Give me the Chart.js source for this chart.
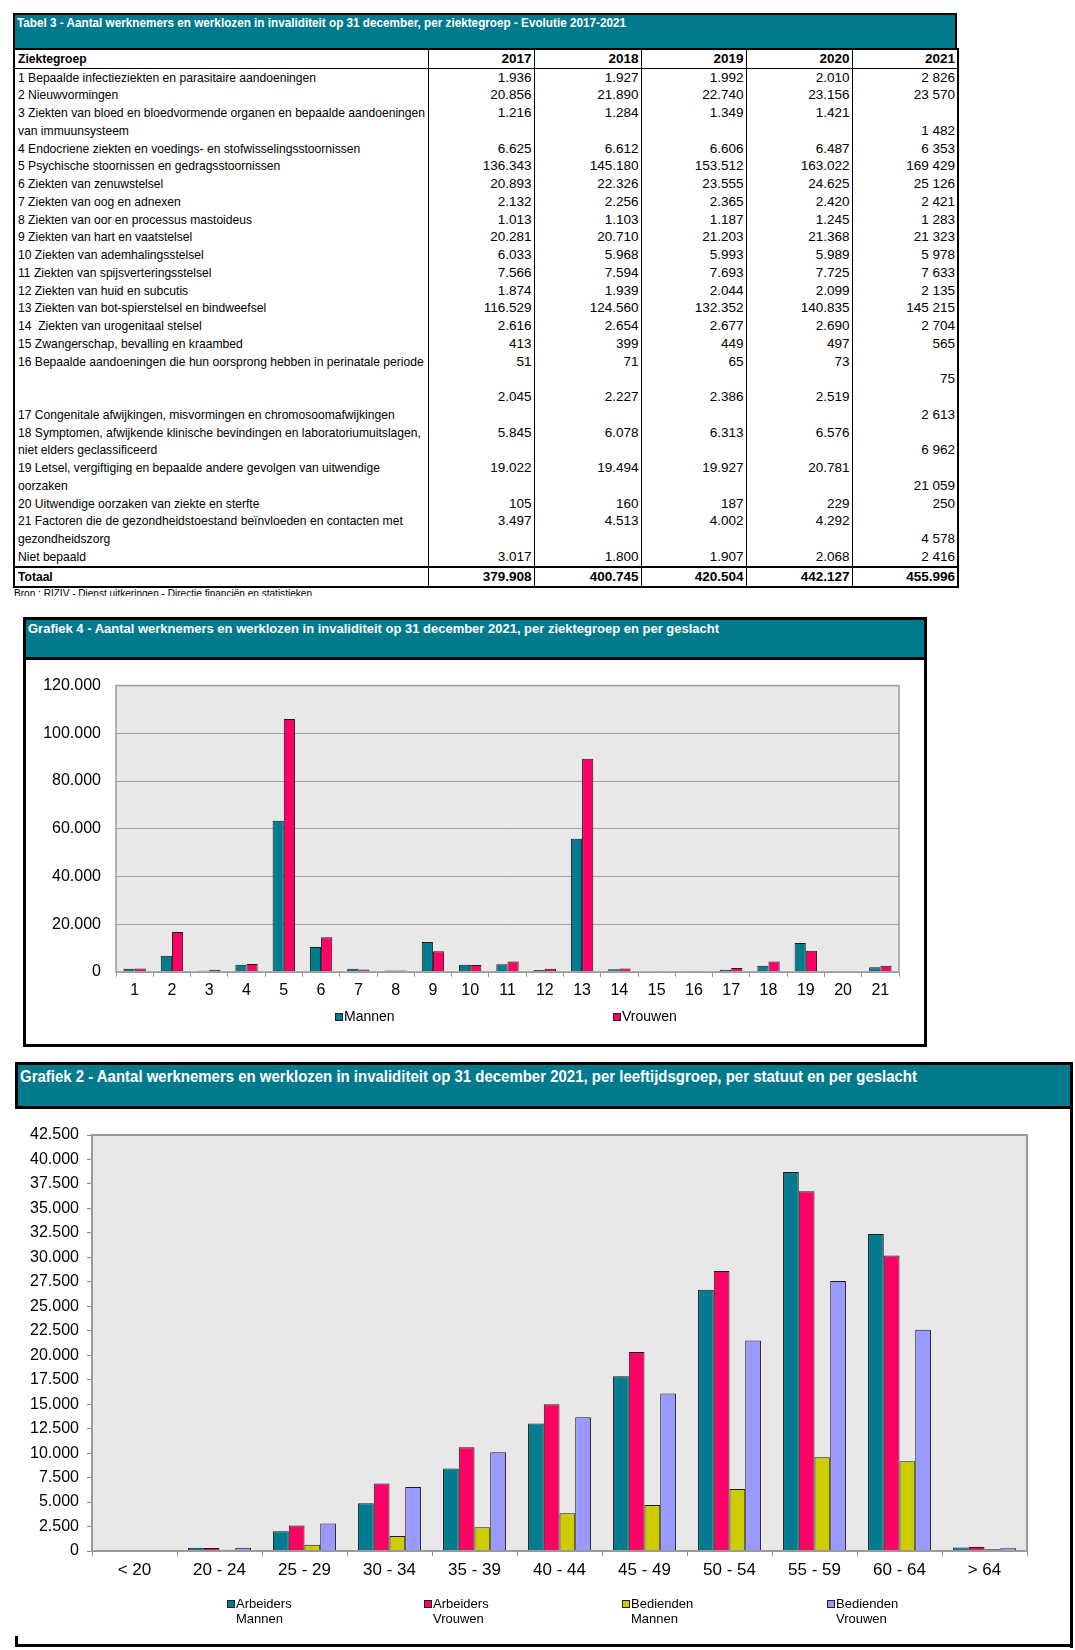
<!DOCTYPE html>
<html lang="nl">
<head>
<meta charset="utf-8">
<title>Invaliditeit per ziektegroep 2017-2021</title>
<script src="https://cdn.jsdelivr.net/npm/chart.js@4.4.1/dist/chart.umd.min.js"></script>
<style>
  html, body { margin: 0; padding: 0; background: #fff; }
  body { position: relative; width: 1075px; height: 1650px; overflow: hidden;
         font-family: "Liberation Sans", Arial, sans-serif; color: #000; }
  .kop { position: absolute; box-sizing: border-box; background: #027a8d; color: #fff;
         font-weight: bold; border: 2px solid #000; white-space: nowrap; }
  .kop span { position: absolute; left: 2px; display: inline-block; transform-origin: left center; }
  #tabel { position: absolute; left: 13px; top: 48px; width: 944px; border-collapse: collapse;
           table-layout: fixed; border: 2px solid #000; font-size: 13.5px; }
  #tabel td { padding: 0 2px 0 3px; height: 17.75px; line-height: 16px; white-space: nowrap; overflow: hidden;
              border-left: 1px solid #000; border-right: 1px solid #000; text-align: right; vertical-align: middle; }
  #tabel td:first-child { text-align: left; }
  #tabel td:first-child span { display: inline-block; transform-origin: left center; }
  #tabel tr.kopregel td { font-weight: bold; border-bottom: 1px solid #000; }
  #tabel tr.totaal td { font-weight: bold; border-top: 2px solid #000; }
  #bron { position: absolute; left: 14px; top: 586px; height: 10px; overflow: hidden; font-size: 11.5px; line-height: 14px; white-space: nowrap; }
  #bron span { display: inline-block; transform-origin: left center; }
  .kader { position: absolute; background: #000; }
  canvas { position: absolute; }
  .leg { position: absolute; white-space: nowrap; }
  .leg .blok { display: inline-block; box-sizing: border-box; width: 8px; height: 8px; border: 1px solid #222; margin-right: 1px; vertical-align: 0; }
  .leg .tweede { display: block; padding-left: 9px; }
</style>
</head>
<body>

<div class="kop" style="left:13px; top:13px; width:944px; height:37px; font-size:12.5px;"><span id="titel3" style="top:1px;">Tabel 3 - Aantal werknemers en werklozen in invaliditeit op 31 december, per ziektegroep - Evolutie 2017-2021</span></div>
<table id="tabel">
  <colgroup><col style="width:414px"><col style="width:106px"><col style="width:107px"><col style="width:105px"><col style="width:106px"><col style="width:106px"></colgroup>
  <tbody id="tabelbody"></tbody>
</table>
<div id="bron"><span id="brontekst">Bron : RIZIV - Dienst uitkeringen - Directie financiën en statistieken</span></div>

<!-- Grafiek 4 -->
<div style="position:absolute; left:23px; top:617px; width:904px; height:430px; box-sizing:border-box; border:3px solid #000;"></div>
<div class="kop" style="left:23px; top:617px; width:904px; height:43px; border-width:3px; font-size:13.5px;"><span id="titel4" style="top:1px;">Grafiek 4 - Aantal werknemers en werklozen in invaliditeit op 31 december 2021, per ziektegroep en per geslacht</span></div>
<canvas id="grafiek4" width="898" height="383" style="left:26px; top:661px;"></canvas>
<div id="legende4"></div>

<!-- Grafiek 2 -->
<div class="kop" style="left:15px; top:1062px; width:1058px; height:47px; border-width:3px; font-size:16.5px;"><span id="titel2" style="top:2px;">Grafiek 2 - Aantal werknemers en werklozen in invaliditeit op 31 december 2021, per leeftijdsgroep, per statuut en per geslacht</span></div>
<div class="kader" style="left:1070px; top:1062px; width:3px; height:586px;"></div>
<div class="kader" style="left:15px; top:1644px; width:1058px; height:3px;"></div>
<div class="kader" style="left:15px; top:1636px; width:3px; height:10px;"></div>
<canvas id="grafiek2" width="1051" height="530" style="left:18px; top:1110px;"></canvas>
<div id="legende2"></div>

<script>
// ---- Tabel 3 ----
const jaren = ['2017', '2018', '2019', '2020', '2021'];
const tabelRijen = [
  '1 Bepaalde infectieziekten en parasitaire aandoeningen',
  '2 Nieuwvormingen',
  '3 Ziekten van bloed en bloedvormende organen en bepaalde aandoeningen',
  'van immuunsysteem',
  '4 Endocriene ziekten en voedings- en stofwisselingsstoornissen',
  '5 Psychische stoornissen en gedragsstoornissen',
  '6 Ziekten van zenuwstelsel',
  '7 Ziekten van oog en adnexen',
  '8 Ziekten van oor en processus mastoideus',
  '9 Ziekten van hart en vaatstelsel',
  '10 Ziekten van ademhalingsstelsel',
  '11 Ziekten van spijsverteringsstelsel',
  '12 Ziekten van huid en subcutis',
  '13 Ziekten van bot-spierstelsel en bindweefsel',
  '14 \u00a0Ziekten van urogenitaal stelsel',
  '15 Zwangerschap, bevalling en kraambed',
  '16 Bepaalde aandoeningen die hun oorsprong hebben in perinatale periode',
  '',
  '',
  '17 Congenitale afwijkingen, misvormingen en chromosoomafwijkingen',
  '18 Symptomen, afwijkende klinische bevindingen en laboratoriumuitslagen,',
  'niet elders geclassificeerd',
  '19 Letsel, vergiftiging en bepaalde andere gevolgen van uitwendige',
  'oorzaken',
  '20 Uitwendige oorzaken van ziekte en sterfte',
  '21 Factoren die de gezondheidstoestand beïnvloeden en contacten met',
  'gezondheidszorg',
  'Niet bepaald'
];
const kol2017 = ['1.936','20.856','1.216','','6.625','136.343','20.893','2.132','1.013','20.281','6.033','7.566','1.874','116.529','2.616','413','51','','2.045','','5.845','','19.022','','105','3.497','','3.017'];
const kol2018 = ['1.927','21.890','1.284','','6.612','145.180','22.326','2.256','1.103','20.710','5.968','7.594','1.939','124.560','2.654','399','71','','2.227','','6.078','','19.494','','160','4.513','','1.800'];
const kol2019 = ['1.992','22.740','1.349','','6.606','153.512','23.555','2.365','1.187','21.203','5.993','7.693','2.044','132.352','2.677','449','65','','2.386','','6.313','','19.927','','187','4.002','','1.907'];
const kol2020 = ['2.010','23.156','1.421','','6.487','163.022','24.625','2.420','1.245','21.368','5.989','7.725','2.099','140.835','2.690','497','73','','2.519','','6.576','','20.781','','229','4.292','','2.068'];
const kol2021 = ['2 826','23 570','','1 482','6 353','169 429','25 126','2 421','1 283','21 323','5 978','7 633','2 135','145 215','2 704','565','','75','','2 613','','6 962','','21 059','250','','4 578','2 416'];
const totalen = ['379.908', '400.745', '420.504', '442.127', '455.996'];

// ---- Grafiek 4 ----
const ziektegroepen = ['1','2','3','4','5','6','7','8','9','10','11','12','13','14','15','16','17','18','19','20','21'];
const mannen  = [1350, 6800, 560, 3000, 63400, 10500, 1400, 600, 12600, 3000, 3200, 800, 55800, 1200, 200, 40, 900, 2600, 12200, 120, 2000];
const vrouwen = [1480, 16770, 920, 3350, 106000, 14600, 1020, 680, 8700, 2980, 4430, 1330, 89400, 1500, 365, 35, 1700, 4360, 8860, 130, 2580];

// ---- Grafiek 2 ----
const leeftijdsgroepen = ['< 20', '20 - 24', '25 - 29', '30 - 34', '35 - 39', '40 - 44', '45 - 49', '50 - 54', '55 - 59', '60 - 64', '> 64'];
const arbeidersMannen   = [40, 330, 2010, 4880, 8430, 13030, 17860, 26690, 38720, 32380, 350];
const arbeidersVrouwen  = [60, 300, 2600, 6890, 10600, 15000, 20320, 28600, 36750, 30200, 410];
const bediendenMannen   = [10, 120, 650, 1540, 2420, 3850, 4700, 6340, 9580, 9170, 170];
const bediendenVrouwen  = [20, 330, 2800, 6550, 10090, 13670, 16090, 21510, 27580, 22600, 270];

const TEAL = '#007b8f', ROZE = '#ff0066', GEEL = '#cccc00', LILA = '#9999ff';

// tabel opbouwen
const body = document.getElementById('tabelbody');
function rij(cellen, klasse) {
  const tr = document.createElement('tr');
  if (klasse) tr.className = klasse;
  cellen.forEach((c, i) => {
    const td = document.createElement('td');
    if (i === 0) { const s = document.createElement('span'); s.textContent = c; td.appendChild(s); }
    else td.textContent = c;
    tr.appendChild(td);
  });
  body.appendChild(tr);
}
rij(['Ziektegroep'].concat(jaren), 'kopregel');
tabelRijen.forEach((naam, i) => rij([naam, kol2017[i], kol2018[i], kol2019[i], kol2020[i], kol2021[i]]));
rij(['Totaal'].concat(totalen), 'totaal');

// smalle (Calibri-achtige) letter nabootsen: horizontaal samendrukken tot de breedte van het origineel
function breedte(el) { return el.getBoundingClientRect().width; }
function pas(el, doel) { el.style.transform = 'scaleX(' + (doel / breedte(el)) + ')'; }
const labelSpans = document.querySelectorAll('#tabel td:first-child span');
const factor = 407 / breedte(labelSpans[3]);
labelSpans.forEach(s => { s.style.transform = 'scaleX(' + factor + ')'; });
pas(document.getElementById('titel3'), 609);
pas(document.getElementById('titel4'), 691);
pas(document.getElementById('titel2'), 897);
pas(document.getElementById('brontekst'), 298);

// punten als duizendtalscheiding
const fmt = v => String(v).replace(/\B(?=(\d{3})+(?!\d))/g, '.');

Chart.defaults.font.family = '"Liberation Sans", Arial, sans-serif';
Chart.defaults.color = '#000';

const plotKader = {
  id: 'plotKader',
  beforeDraw(chart, args, opts) {
    const { ctx, chartArea: a } = chart;
    ctx.save();
    ctx.fillStyle = opts.fill;
    ctx.fillRect(a.left, a.top, a.right - a.left, a.bottom - a.top);
    ctx.restore();
  },
  afterDatasetsDraw(chart, args, opts) {
    const { ctx, chartArea: a } = chart;
    ctx.save();
    ctx.strokeStyle = opts.stroke;
    ctx.lineWidth = opts.width;
    ctx.strokeRect(a.left, a.top, a.right - a.left, a.bottom - a.top);
    ctx.restore();
  }
};

function balk(label, data, kleur) {
  return { label, data, backgroundColor: kleur, borderColor: '#1a1a1a', borderWidth: 1 };
}

const grafiek4 = new Chart(document.getElementById('grafiek4'), {
  type: 'bar',
  data: {
    labels: ziektegroepen,
    datasets: [balk('Mannen', mannen, TEAL), balk('Vrouwen', vrouwen, ROZE)]
  },
  options: {
    responsive: false,
    animation: false,
    layout: { padding: { top: 20, right: 25, bottom: 32, left: 0 } },
    datasets: { bar: { categoryPercentage: 0.6, barPercentage: 1 } },
    plugins: {
      legend: { display: false },
      tooltip: { enabled: false },
      plotKader: { fill: '#e8e8e8', stroke: '#9a9a9a', width: 1.5 }
    },
    scales: {
      x: {
        grid: { offset: true, drawOnChartArea: false, tickLength: 5, color: '#999' },
        border: { display: false },
        ticks: { font: { size: 16 }, padding: 4, autoSkip: false, maxRotation: 0 },
        afterFit: s => { s.height = 40; }
      },
      y: {
        min: 0, max: 120000,
        grid: { color: '#a0a0a0', drawTicks: false },
        border: { display: false },
        ticks: { stepSize: 20000, callback: fmt, padding: 15, font: { size: 16 } },
        afterFit: s => { s.width = 90; }
      }
    }
  },
  plugins: [plotKader]
});

const grafiek2 = new Chart(document.getElementById('grafiek2'), {
  type: 'bar',
  data: {
    labels: leeftijdsgroepen,
    datasets: [
      balk('Arbeiders Mannen', arbeidersMannen, TEAL),
      balk('Arbeiders Vrouwen', arbeidersVrouwen, ROZE),
      balk('Bedienden Mannen', bediendenMannen, GEEL),
      balk('Bedienden Vrouwen', bediendenVrouwen, LILA)
    ]
  },
  options: {
    responsive: false,
    animation: false,
    layout: { padding: { top: 25, right: 42, bottom: 49, left: 0 } },
    datasets: { bar: { categoryPercentage: 0.74, barPercentage: 1 } },
    plugins: {
      legend: { display: false },
      tooltip: { enabled: false },
      plotKader: { fill: '#e8e8e8', stroke: '#9a9a9a', width: 2 }
    },
    scales: {
      x: {
        grid: { offset: true, drawOnChartArea: false, tickLength: 5, color: '#888' },
        border: { display: false },
        ticks: { font: { size: 17 }, padding: 4, autoSkip: false, maxRotation: 0 },
        afterFit: s => { s.height = 40; }
      },
      y: {
        min: 0, max: 42500,
        grid: { drawOnChartArea: false, tickLength: 5, color: '#888' },
        border: { display: false },
        ticks: { stepSize: 2500, callback: fmt, padding: 8, font: { size: 16 }, autoSkip: false },
        afterFit: s => { s.width = 74; }
      }
    }
  },
  plugins: [plotKader]
});

// legendes in HTML, zoals het origineel ver uit elkaar
function legende(doel, chart, xs, top, grootte, tweeRegels) {
  const el = document.getElementById(doel);
  chart.data.datasets.forEach((ds, i) => {
    const d = document.createElement('div');
    d.className = 'leg';
    d.style.left = xs[i] + 'px';
    d.style.top = top + 'px';
    d.style.fontSize = grootte + 'px';
    d.style.lineHeight = (grootte + 2) + 'px';
    const woorden = tweeRegels ? ds.label.split(' ') : [ds.label];
    d.innerHTML = '<span class="blok" style="background:' + ds.backgroundColor + '"></span>' + woorden[0] +
      (woorden[1] ? '<span class="tweede">' + woorden[1] + '</span>' : '');
    el.appendChild(d);
  });
}
legende('legende4', grafiek4, [335, 613], 1008, 14, false);
legende('legende2', grafiek2, [227, 424, 622, 827], 1596, 13, true);
</script>
</body>
</html>
